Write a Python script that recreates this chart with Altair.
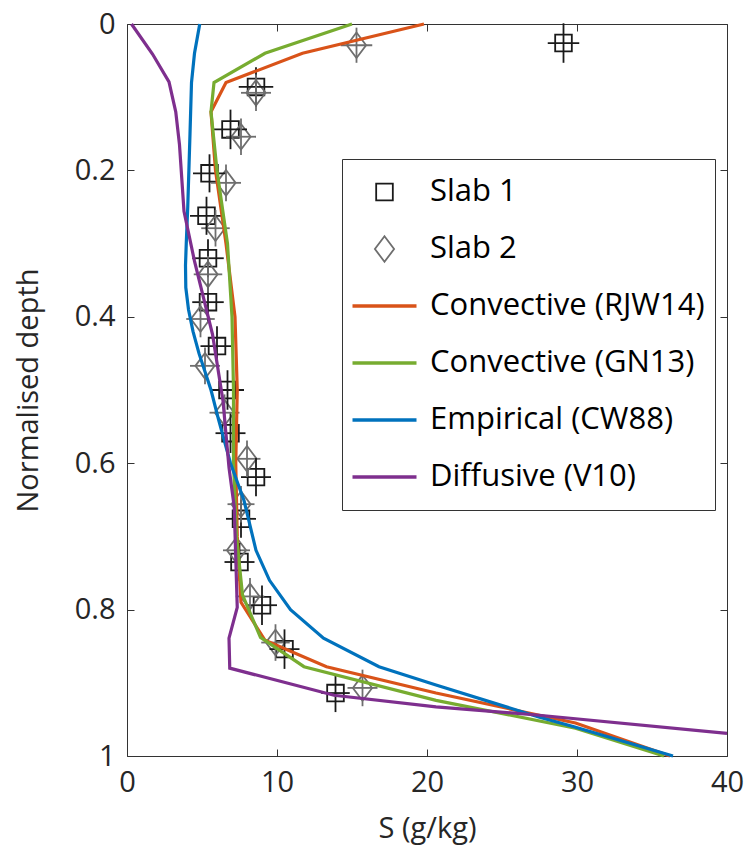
import altair as alt
import pandas as pd

FONT = "Open Sans"

# ---------------- data ----------------
series_names = ["Slab 1", "Slab 2", "Convective (RJW14)", "Convective (GN13)",
                "Empirical (CW88)", "Diffusive (V10)"]
series_colors = ["#1a1a1a", "#6e6e6e", "#D95319", "#77AC30", "#0072BD", "#7E2F8E"]

x_ticks = [0, 10, 20, 30, 40]
y_ticks = [0, 0.2, 0.4, 0.6, 0.8, 1]

slab1_S = [29.1, 8.6, 6.9, 5.5, 5.3, 5.4, 5.4, 6.0, 6.7, 6.9, 8.6, 7.6, 7.5, 9.0, 10.5, 13.9]
slab1_d = [0.026, 0.086, 0.144, 0.204, 0.262, 0.320, 0.380, 0.440, 0.500, 0.559,
           0.619, 0.676, 0.735, 0.794, 0.854, 0.914]
slab1_Serr = [1.05, 1.15, 1.1, 1.1, 1.1, 1.05, 1.05, 1.1, 1.1, 1.0, 1.0, 1.0, 1.0, 1.0, 1.0, 0.95]
slab1_derr = [0.027, 0.027, 0.027, 0.026, 0.026, 0.026, 0.026, 0.027, 0.027, 0.027,
              0.026, 0.026, 0.026, 0.027, 0.027, 0.026]

slab2_S = [15.3, 8.6, 7.6, 6.6, 5.9, 5.4, 4.9, 5.2, 6.5, 8.0, 7.6, 7.3, 8.2, 9.9, 15.7]
slab2_d = [0.029, 0.094, 0.154, 0.217, 0.279, 0.342, 0.403, 0.467, 0.531, 0.594,
           0.656, 0.719, 0.782, 0.845, 0.907]
slab2_Serr = [1.05, 1.0, 1.0, 1.0, 0.95, 0.95, 0.95, 1.0, 1.0, 0.9, 0.9, 0.9, 0.95, 0.95, 1.0]
slab2_derr = [0.024, 0.025, 0.025, 0.025, 0.025, 0.025, 0.025, 0.025, 0.025, 0.025,
              0.025, 0.025, 0.025, 0.025, 0.025]

rjw14_S = [19.8, 11.7, 6.6, 5.6, 5.9, 6.6, 7.2, 7.35, 7.25, 7.35, 7.6, 9.2, 13.3, 20.6, 29.9, 36.2]
rjw14_d = [0.0, 0.04, 0.08, 0.12, 0.2, 0.3, 0.4, 0.5, 0.6, 0.7, 0.79, 0.842, 0.878, 0.914, 0.955, 1.0]

gn13_S = [15.0, 9.2, 5.8, 5.6, 6.0, 6.7, 7.0, 7.1, 7.1, 7.3, 7.7, 8.9, 11.8, 20.6, 29.9, 35.8]
gn13_d = [0.0, 0.04, 0.08, 0.12, 0.2, 0.3, 0.4, 0.5, 0.6, 0.7, 0.78, 0.838, 0.878, 0.924, 0.962, 1.0]

cw88_S = [4.85, 4.5, 4.3, 4.2, 4.05, 3.95, 3.9, 3.92, 4.1, 4.4, 4.8, 5.6, 6.1, 6.9, 7.8, 8.6,
          9.5, 10.9, 13.1, 16.8, 20.6, 27.5, 29.8, 36.4]
cw88_d = [0.0, 0.04, 0.08, 0.15, 0.25, 0.3, 0.33, 0.36, 0.39, 0.42, 0.45, 0.5, 0.54, 0.6, 0.651,
          0.719, 0.76, 0.80, 0.839, 0.878, 0.903, 0.947, 0.960, 1.0]

v10_S = [0.3, 1.7, 2.8, 3.25, 3.5, 3.8, 4.5, 5.7, 6.4, 6.8, 7.15, 7.35, 6.8, 6.85,
         13.8, 20.6, 27.3, 40.0]
v10_d = [0.0, 0.041, 0.079, 0.12, 0.165, 0.256, 0.324, 0.424, 0.515, 0.606, 0.66, 0.797,
         0.839, 0.880, 0.917, 0.933, 0.944, 0.969]

# ---------------- tables ----------------
def pts_table(name, S, d, Se, de):
    return pd.DataFrame({
        "series": name, "S": S, "d": d,
        "Slo": [s - e for s, e in zip(S, Se)], "Shi": [s + e for s, e in zip(S, Se)],
        "dlo": [v - e for v, e in zip(d, de)], "dhi": [v + e for v, e in zip(d, de)],
    })

p1 = pts_table("Slab 1", slab1_S, slab1_d, slab1_Serr, slab1_derr)
p2 = pts_table("Slab 2", slab2_S, slab2_d, slab2_Serr, slab2_derr)
pts = pd.concat([p1, p2], ignore_index=True)

line_parts = []
for name, S, d in [("Convective (RJW14)", rjw14_S, rjw14_d),
                   ("Convective (GN13)", gn13_S, gn13_d),
                   ("Empirical (CW88)", cw88_S, cw88_d),
                   ("Diffusive (V10)", v10_S, v10_d)]:
    line_parts.append(pd.DataFrame({"series": name, "S": S, "d": d, "i": list(range(len(S)))}))
lines = pd.concat(line_parts, ignore_index=True)

# ---------------- styles ----------------
SQUARE = "M-0.26,-0.26L0.26,-0.26L0.26,0.26L-0.26,0.26Z"
DIAMOND = "M0,-0.4L0.3,0L0,0.4L-0.3,0Z"
shapes = [SQUARE, DIAMOND, "stroke", "stroke", "stroke", "stroke"]

xs = alt.Scale(domain=[0, 40], nice=False, zero=False)
ys = alt.Scale(domain=[0, 1], reverse=True, nice=False, zero=False)
cs = alt.Scale(domain=series_names, range=series_colors)
ss = alt.Scale(domain=series_names, range=shapes)

TICK = 7
AX = "#333333"
xaxis = alt.Axis(values=x_ticks, orient="bottom", offset=-TICK, tickSize=TICK, tickColor=AX,
                 domain=False, grid=False, labelFont=FONT, labelFontSize=29,
                 labelColor="#262626", labelPadding=12, labelFlush=False,
                 title="S (g/kg)", titleFont=FONT, titleFontSize=29,
                 titleFontWeight="normal", titleColor="#262626", titlePadding=17)
yaxis = alt.Axis(values=y_ticks, orient="left", offset=-TICK, tickSize=TICK, tickColor=AX,
                 domain=False, grid=False, labelFont=FONT, labelFontSize=29,
                 labelColor="#262626", labelPadding=12, labelFlush=False, format="~g",
                 title="Normalised depth", titleFont=FONT, titleFontSize=29,
                 titleFontWeight="normal", titleColor="#262626", titlePadding=31)
xaxis_top = alt.Axis(values=x_ticks, orient="top", offset=-TICK, tickSize=TICK, tickColor=AX,
                     domain=False, grid=False, labels=False, title=None)
yaxis_right = alt.Axis(values=y_ticks, orient="right", offset=-TICK, tickSize=TICK, tickColor=AX,
                       domain=False, grid=False, labels=False, title=None)

leg = alt.Legend(
    title=None, orient="none", legendX=215, legendY=135,
    symbolSize=4096, labelFont=FONT, labelFontSize=31, labelColor="black", labelLimit=500,
    padding=10, rowPadding=11, clipHeight=46, labelOffset=30, symbolOffset=17,
    strokeColor="#333333", fillColor="white", symbolFillColor="transparent",
    symbolStrokeWidth={"expr": "indexof(['Slab 1','Slab 2'], datum.value) >= 0 ? 1.8 : 3.4"},
)

base_pts = alt.Chart(pts)

hbars = base_pts.mark_rule(strokeWidth=1.8).encode(
    x=alt.X("Slo:Q", scale=xs, axis=xaxis), x2="Shi:Q",
    y=alt.Y("d:Q", scale=ys, axis=yaxis),
    color=alt.Color("series:N", scale=cs, legend=leg),
)
vbars = base_pts.mark_rule(strokeWidth=1.8).encode(
    x=alt.X("S:Q", scale=xs, axis=xaxis),
    y=alt.Y("dlo:Q", scale=ys, axis=yaxis), y2="dhi:Q",
    color=alt.Color("series:N", scale=cs, legend=leg),
)
points = base_pts.mark_point(filled=False, size=4096, strokeWidth=1.8, opacity=1).encode(
    x=alt.X("S:Q", scale=xs, axis=xaxis),
    y=alt.Y("d:Q", scale=ys, axis=yaxis),
    color=alt.Color("series:N", scale=cs, legend=leg),
    shape=alt.Shape("series:N", scale=ss, legend=leg),
)
model_lines = alt.Chart(lines).mark_line(strokeWidth=3.2).encode(
    x=alt.X("S:Q", scale=xs, axis=xaxis),
    y=alt.Y("d:Q", scale=ys, axis=yaxis),
    color=alt.Color("series:N", scale=cs, legend=leg),
    detail="series:N",
    order=alt.Order("i:Q"),
)

inner = alt.layer(points, hbars, vbars, model_lines)

ticks_layer = alt.Chart(lines).mark_point(opacity=0).encode(
    x=alt.X("S:Q", scale=xs, axis=xaxis_top),
    y=alt.Y("d:Q", scale=ys, axis=yaxis_right),
)

chart = alt.layer(inner, ticks_layer).resolve_axis(
    x="independent", y="independent"
).properties(
    width=600, height=732,
    autosize=alt.AutoSizeParams(type="none"),
    padding={"left": 119, "top": 16, "right": 17, "bottom": 90},
).configure_view(stroke=AX, strokeWidth=1)

chart.save("out.html", embed_options={"renderer": "svg", "actions": False})
